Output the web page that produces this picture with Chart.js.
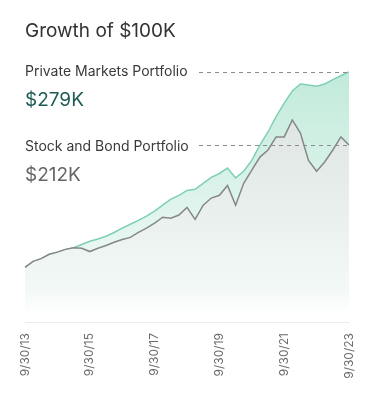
<!DOCTYPE html>
<html>
<head>
<meta charset="utf-8">
<script src="https://cdn.jsdelivr.net/npm/chart.js@4/dist/chart.umd.min.js"></script>
<style>
  html, body { margin: 0; padding: 0; background: #fff; }
  #wrap { position: relative; width: 375px; height: 405px; overflow: hidden; font-family: Inter, "Noto Sans", sans-serif; }
  #c { position: absolute; left: 0; top: 0; }
  .t { position: absolute; left: 25px; white-space: nowrap; }
  #title { top: 21px; font-size: 19px; line-height: 19px; color: #333; }
  #pLab { top: 64px; font-size: 14px; line-height: 14px; color: #3a3a3a; }
  #pVal { top: 90px; font-size: 19px; line-height: 19px; color: #1d5c54; }
  #sLab { top: 139px; font-size: 14px; line-height: 14px; color: #3a3a3a; }
  #sVal { top: 165px; font-size: 19px; line-height: 19px; color: #666; }
</style>
</head>
<body>
<div id="wrap">
  <canvas id="c" width="375" height="405"></canvas>
  <div class="t" id="title">Growth of $100K</div>
  <div class="t" id="pLab">Private Markets Portfolio</div>
  <div class="t" id="pVal">$279K</div>
  <div class="t" id="sLab">Stock and Bond Portfolio</div>
  <div class="t" id="sVal">$212K</div>
</div>
<script>
const quarterLabels = [
  "9/30/13","12/31/13","3/31/14","6/30/14","9/30/14","12/31/14","3/31/15","6/30/15",
  "9/30/15","12/31/15","3/31/16","6/30/16","9/30/16","12/31/16","3/31/17","6/30/17",
  "9/30/17","12/31/17","3/31/18","6/30/18","9/30/18","12/31/18","3/31/19","6/30/19",
  "9/30/19","12/31/19","3/31/20","6/30/20","9/30/20","12/31/20","3/31/21","6/30/21",
  "9/30/21","12/31/21","3/31/22","6/30/22","9/30/22","12/31/22","3/31/23","6/30/23",
  "9/30/23"
];
const shownTickLabels = ["9/30/13","9/30/15","9/30/17","9/30/19","9/30/21","9/30/23"];
const privateMarkets = [
  100,105.5,108,112,114,116.5,118,121,124,126,128.5,132,136,139.5,143,147,
  151.5,157,162.5,166,170.5,171.5,177,182.5,186,191,182,188,198,212,224,238,
  250.5,261.5,268,267,266,268,272,275.5,279
];
const stockBond = [
  100,105.5,108,112,114,116.5,118,117.5,114.5,117.5,120,123,125.5,127.5,132,136,
  140.5,146,145,148,155,144,157,163.5,166,175,157,177,189,201,207.5,219.5,
  219.5,235,223,198,188,196.5,207.5,219.5,212
];

function grad(chart, stops) {
  const a = chart.chartArea;
  if (!a) return stops[0][1];
  const g = chart.ctx.createLinearGradient(0, a.top, 0, a.bottom);
  stops.forEach(s => g.addColorStop(s[0], s[1]));
  return g;
}

const dashPlugin = {
  id: 'dashes',
  afterDatasetsDraw(chart) {
    const c = chart.ctx;
    c.save();
    c.setLineDash([4, 4]);
    c.strokeStyle = '#8c8c8c';
    c.lineWidth = 1;
    chart.data.datasets.forEach((ds, i) => {
      const meta = chart.getDatasetMeta(i);
      const last = meta.data[meta.data.length - 1];
      const y = Math.round(last.y) + 0.5;
      c.beginPath();
      c.moveTo(199, y);
      c.lineTo(last.x, y);
      c.stroke();
    });
    c.restore();
  }
};

new Chart(document.getElementById('c'), {
  type: 'line',
  data: {
    labels: quarterLabels,
    datasets: [
      {
        label: 'Stock and Bond Portfolio',
        data: stockBond,
        borderColor: '#858886',
        borderWidth: 1.5,
        pointRadius: 0,
        tension: 0,
        fill: 'origin',
        backgroundColor: (ctx) => grad(ctx.chart, [[0, '#d8dedb'], [0.55, '#e8eeeb'], [0.88, '#f3f9f7'], [0.97, '#ffffff'], [1, '#ffffff']])
      },
      {
        label: 'Private Markets Portfolio',
        data: privateMarkets,
        borderColor: '#7dd0b5',
        borderWidth: 1.5,
        pointRadius: 0,
        tension: 0,
        fill: 'origin',
        backgroundColor: (ctx) => grad(ctx.chart, [[0, '#bce9d8'], [0.88, '#f2faf7'], [0.97, '#ffffff'], [1, '#ffffff']])
      }
    ]
  },
  options: {
    responsive: false,
    devicePixelRatio: 1,
    animation: false,
    layout: { padding: { left: 25, right: 26, top: 49, bottom: 0 } },
    plugins: { legend: { display: false }, tooltip: { enabled: false } },
    scales: {
      y: { display: false, min: 50, max: 300 },
      x: {
        offset: false,
        grid: { display: false, drawTicks: false },
        border: { display: true, color: '#ececec', width: 1 },
        afterFit: (s) => { s.height = 83; },
        ticks: {
          autoSkip: false,
          minRotation: 90,
          maxRotation: 90,
          padding: 11,
          color: '#6b6b6b',
          font: { family: 'Inter, "Noto Sans", sans-serif', size: 12 },
          callback: function (v, i) {
            const l = this.getLabelForValue(v);
            return shownTickLabels.includes(l) ? l : '';
          }
        }
      }
    }
  },
  plugins: [dashPlugin]
});
</script>
</body>
</html>
